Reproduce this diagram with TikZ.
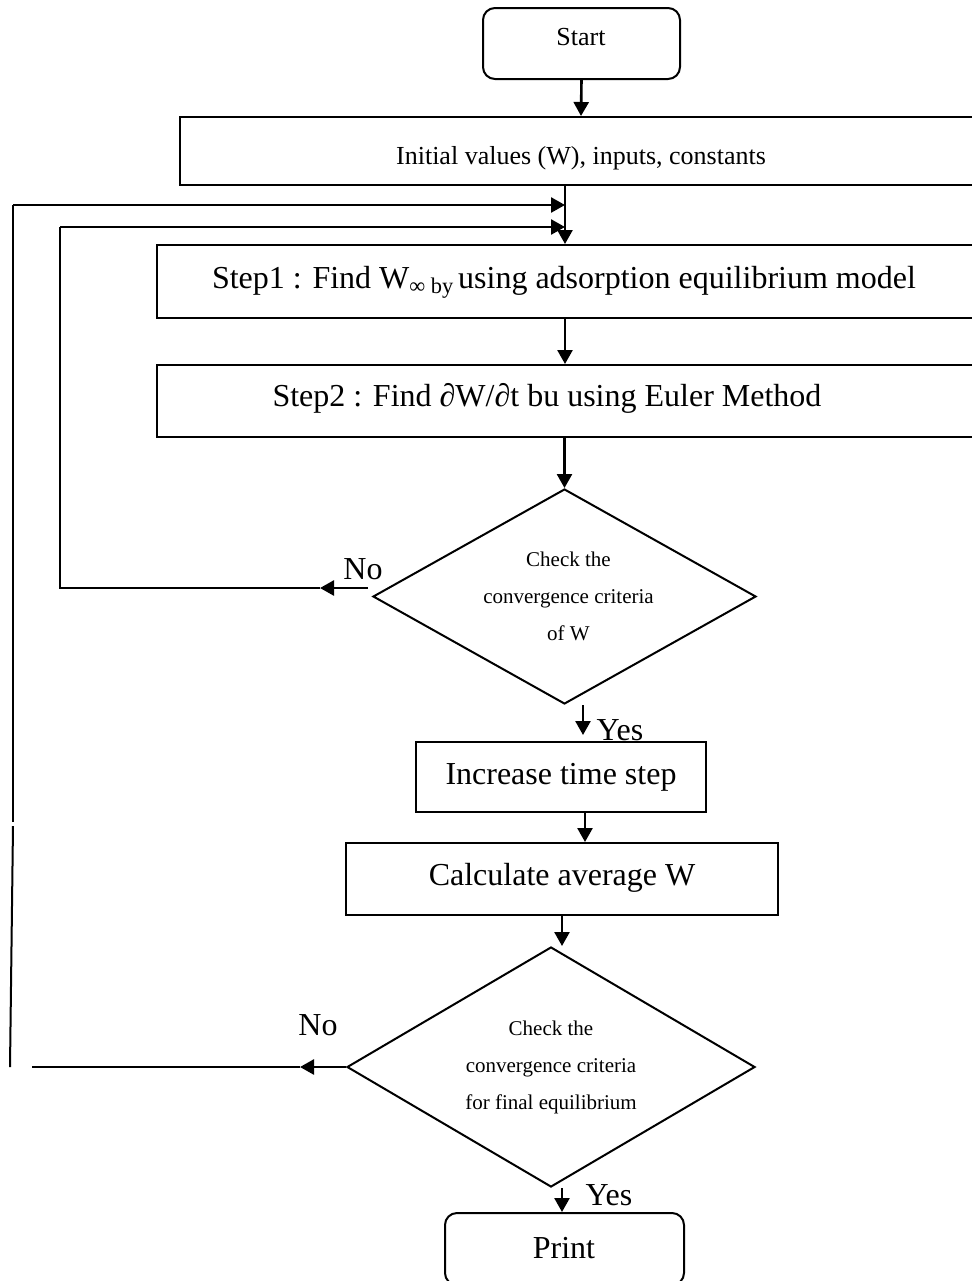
\documentclass[tikz,border=0pt]{standalone}
\usepackage{fontspec}
\setmainfont{Liberation Serif}
\usetikzlibrary{arrows.meta}
\usetikzlibrary{shapes.geometric}

\begin{document}
\begin{tikzpicture}[x=0.5pt, y=-0.5pt,
    bar/.style={draw, line width=1pt, inner sep=0pt},
    term/.style={bar, rounded corners=6pt},
    decision/.style={bar, diamond, shape aspect=1.7, align=center,
      font=\fontsize{10.5}{18.5}\selectfont},
    big/.style={inner sep=0pt, anchor=base, font=\fontsize{16}{19}\selectfont},
    mid/.style={inner sep=0pt, anchor=base, font=\fontsize{13}{16}\selectfont},
    flow/.style={line width=1.3pt, -{Triangle[length=7pt, width=7.5pt]}},
    loopline/.style={line width=1pt}]

  \useasboundingbox (0,0) rectangle (972,1281);

  % boxes
  \node[term, minimum width=98.5pt, minimum height=35.5pt] (start) at (581.5,43.5) {};
  \node[bar, minimum width=401pt, minimum height=34pt] (init) at (581,151) {};
  \node[bar, minimum width=423pt, minimum height=36.5pt] (s1) at (580,281.5) {};
  \node[bar, minimum width=423pt, minimum height=36pt] (s2) at (580,401) {};
  \node[decision, minimum width=191.5pt, minimum height=107.5pt] (d1) at (564.5,596.5)
    {\hspace*{4pt}Check the\\\hspace*{4pt}convergence criteria\\\hspace*{4pt}of W};
  \node[bar, minimum width=145pt, minimum height=35pt] (inc) at (561,777) {};
  \node[bar, minimum width=216pt, minimum height=36pt] (avg) at (562,879) {};
  \node[decision, minimum width=204pt, minimum height=120pt] (d2) at (551,1067)
    {Check the\\convergence criteria\\for final equilibrium};
  \node[term, minimum width=119.5pt, minimum height=36pt] (print) at (564.5,1249) {};

  % box texts
  \node[mid] (starttxt) at (581,45) {Start};
  \node[mid] (inittxt) at (581,164) {Initial values (W), inputs, constants};
  \node[big] (s1txt) at (564,288)
    {Step1 : Find W\textsubscript{∞ by}\hspace{0.12em}using adsorption equilibrium model};
  \node[big] (s2txt) at (547,406) {Step2 : Find ∂W/∂t bu using Euler Method};
  \node[big] (inctxt) at (561,784) {Increase time step};
  \node[big] (avgtxt) at (562,885) {Calculate average W};
  \node[big] (printtxt) at (564,1258) {Print};

  % branch labels
  \node[big] (no1) at (363,579) {No};
  \node[big] (no2) at (318,1035) {No};
  \node[big] (yes1) at (620,740) {Yes};
  \node[big] (yes2) at (609,1205) {Yes};

  % helper points
  \coordinate (spine) at (565,0);
  \coordinate (xinc) at (585,0);
  \coordinate (yesout) at (583,705);
  \coordinate (noout) at (368,588);
  \coordinate (notip1) at (320,588);
  \coordinate (back1a) at (60,588);
  \coordinate (back1b) at (60,227);
  \coordinate (notip2) at (300,1067);
  \coordinate (back2a) at (32,1067);
  \coordinate (back2b) at (10,1067);
  \coordinate (back2c) at (13,826);
  \coordinate (back2d) at (13,822);
  \coordinate (back2e) at (13,205);

  % main flow
  \draw[flow] (start.south) -- (init.north);
  \draw[flow] (init.south -| spine) -- (s1.north -| spine);
  \draw[flow] (s1.south -| spine) -- (s2.north -| spine);
  \draw[flow] (s2.south -| d1.north) -- (d1.north);
  \draw[flow, shorten >=3pt] (yesout) -- (yesout |- inc.north);
  \draw[flow] (inc.south -| xinc) -- (avg.north -| xinc);
  \draw[flow] (avg.south) -- (avg.south |- d2.north);
  \draw[flow] (avg.south |- d2.south) -- (avg.south |- print.north);

  % inner loop
  \draw[flow] (noout) -- (notip1);
  \draw[loopline] (notip1) -- (back1a) -- (back1b);
  \draw[flow] (back1b) -- (back1b -| spine);

  % outer loop
  \draw[flow] (d2.west) -- (notip2);
  \draw[loopline] (notip2) -- (back2a);
  \draw[loopline] (back2b) -- (back2c);
  \draw[loopline] (back2d) -- (back2e);
  \draw[flow] (back2e) -- (back2e -| spine);
\end{tikzpicture}
\end{document}
